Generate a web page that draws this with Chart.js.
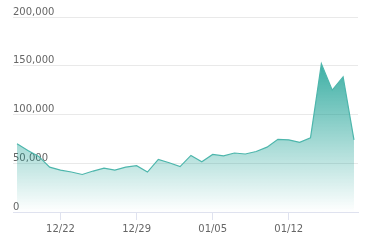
<!DOCTYPE html>
<html>
<head>
<meta charset="utf-8">
<script src="https://cdn.jsdelivr.net/npm/chart.js@4/dist/chart.umd.min.js"></script>
<style>
  html, body { margin: 0; padding: 0; background: #fff; }
  #wrap { width: 371px; height: 248px; }
</style>
</head>
<body>
<div id="wrap"><canvas id="canvas"></canvas></div>
<script>
// daily values, 12/18 .. 01/18
var dates = ['12/18','12/19','12/20','12/21','12/22','12/23','12/24','12/25',
    '12/26','12/27','12/28','12/29','12/30','12/31','01/01','01/02',
    '01/03','01/04','01/05','01/06','01/07','01/08','01/09','01/10',
    '01/11','01/12','01/13','01/14','01/15','01/16','01/17','01/18'];

var values = [70000, 63000, 57000, 46000, 43000, 41000, 38500, 42000,
    45000, 43000, 46000, 47500, 41000, 54000, 50500, 46500,
    58000, 51500, 59000, 57500, 60500, 59500, 62000, 66500,
    74500, 74000, 71500, 76000, 152000, 125000, 138500, 74000];

// only weekly labels are shown
var tickIdx = [4, 11, 18, 25];
var yTicks = [0, 50000, 100000, 150000, 200000];

var axisColor = '#dfe2ef';

window.onload = function() {
    var ctx = document.getElementById('canvas').getContext('2d');
    window.myLine = new Chart(ctx, {
        type: 'line',
        data: {
            datasets: [{
                data: values.map(function(v, i) { return {x: i, y: v}; }),
                borderColor: '#4db6ac',
                borderWidth: 1.2,
                pointRadius: 0,
                tension: 0,
                fill: 'origin',
                backgroundColor: function(c) {
                    var area = c.chart.chartArea;
                    if (!area) return 'rgba(0,150,136,0.4)';
                    var g = c.chart.ctx.createLinearGradient(0, area.top, 0, area.bottom);
                    g.addColorStop(0, 'rgba(0,150,136,1)');
                    g.addColorStop(1, 'rgba(0,150,136,0)');
                    return g;
                }
            }]
        },
        options: {
            responsive: true,
            maintainAspectRatio: false,
            animation: false,
            layout: { padding: { left: 13, right: 13, top: 17, bottom: 10 } },
            plugins: { legend: { display: false }, tooltip: { enabled: false } },
            scales: {
                x: {
                    type: 'linear',
                    min: -0.37,
                    max: 31.37,
                    afterBuildTicks: function(axis) {
                        axis.ticks = tickIdx.map(function(v) { return {value: v}; });
                    },
                    grid: { drawOnChartArea: false, drawTicks: true, tickLength: 8, color: axisColor },
                    border: { display: true, color: axisColor },
                    ticks: {
                        autoSkip: false,
                        maxRotation: 0,
                        padding: 3,
                        color: '#666',
                        font: { family: 'DejaVu Sans', size: 10 },
                        callback: function(v) { return dates[v]; }
                    }
                },
                y: {
                    min: 0,
                    max: 200000,
                    afterBuildTicks: function(axis) {
                        axis.ticks = yTicks.map(function(v) { return {value: v}; });
                    },
                    grid: { drawTicks: false, color: '#e9e9e9' },
                    border: { display: false },
                    ticks: {
                        mirror: true,
                        padding: 0,
                        labelOffset: -5,
                        color: '#666',
                        font: { family: 'DejaVu Sans', size: 10 },
                        callback: function(v) { return v.toLocaleString('en-US'); }
                    }
                }
            }
        }
    });
};
</script>
</body>
</html>
